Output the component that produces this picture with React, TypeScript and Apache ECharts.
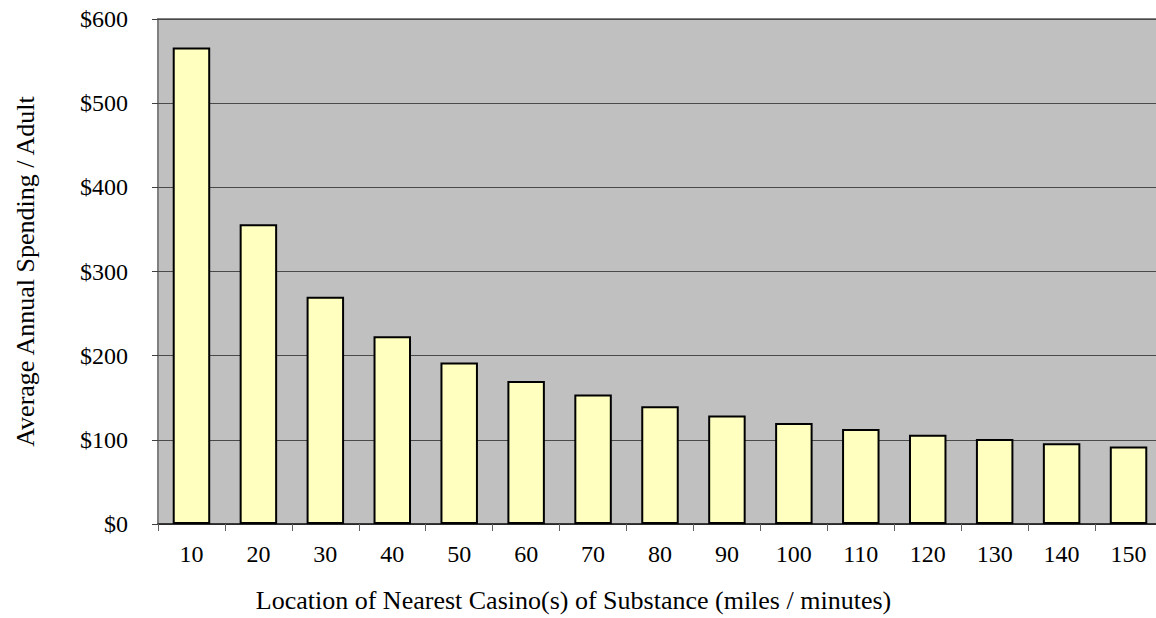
import React, { useEffect, useRef } from "react";
import * as echarts from "echarts";

// Distance bands to the nearest casino (miles / minutes)
const distances: string[] = ["10", "20", "30", "40", "50", "60", "70", "80", "90", "100", "110", "120", "130", "140", "150"];
// Average annual spending per adult, in dollars
const spending: number[] = [566, 356, 270, 223, 192, 170, 154, 140, 129, 120, 113, 106, 101, 96, 92];
// Value axis range and step
const yMin = 0;
const yMax = 600;
const yStep = 100;

const FONT = "Liberation Serif";

export default function App() {
  const ref = useRef<HTMLDivElement>(null);

  useEffect(() => {
    if (!ref.current) return;
    const chart = echarts.init(ref.current, undefined, { renderer: "svg" });
    chart.setOption({
      animation: false,
      backgroundColor: "#FFFFFF",
      grid: {
        left: 158,
        right: -6,
        top: 19,
        bottom: 94,
        outerBoundsMode: "none",
        containLabel: false,
        show: true,
        backgroundColor: "#C0C0C0",
        borderColor: "#808080",
        borderWidth: 2,
      },
      xAxis: {
        type: "category",
        data: distances,
        name: "Location of Nearest Casino(s) of Substance (miles / minutes)",
        nameLocation: "middle",
        nameGap: 63,
        nameTextStyle: {
          fontFamily: FONT,
          fontSize: 26,
          color: "#000",
          // title sits centred under the chart area rather than the plot
          padding: [0, 173, 0, 0],
        },
        axisLine: { show: true, lineStyle: { color: "#202020", width: 1.5 } },
        axisTick: { show: true, length: 7, alignWithLabel: false, lineStyle: { color: "#606060", width: 1 } },
        axisLabel: { fontFamily: FONT, fontSize: 24, color: "#000", margin: 18 },
        splitLine: { show: false },
      },
      yAxis: {
        type: "value",
        min: yMin,
        max: yMax,
        interval: yStep,
        name: "Average Annual Spending / Adult",
        nameLocation: "middle",
        nameGap: 120,
        nameTextStyle: { fontFamily: FONT, fontSize: 26, color: "#000" },
        axisLine: { show: false },
        axisTick: { show: true, length: 6, lineStyle: { color: "#404040", width: 1 } },
        axisLabel: {
          fontFamily: FONT,
          fontSize: 24,
          color: "#000",
          margin: 30,
          formatter: (v: number) => "$" + v,
        },
        splitLine: { show: true, lineStyle: { color: "#4A4A4A", width: 1 } },
      },
      series: [
        {
          type: "bar",
          data: spending,
          barCategoryGap: "44%",
          itemStyle: { color: "#FFFFC0", borderColor: "#000000", borderWidth: 2 },
        },
      ],
    });
    return () => chart.dispose();
  }, []);

  return (
    <div
      ref={ref}
      style={{ position: "absolute", left: 0, top: 0, width: 1156, height: 618 }}
    />
  );
}
